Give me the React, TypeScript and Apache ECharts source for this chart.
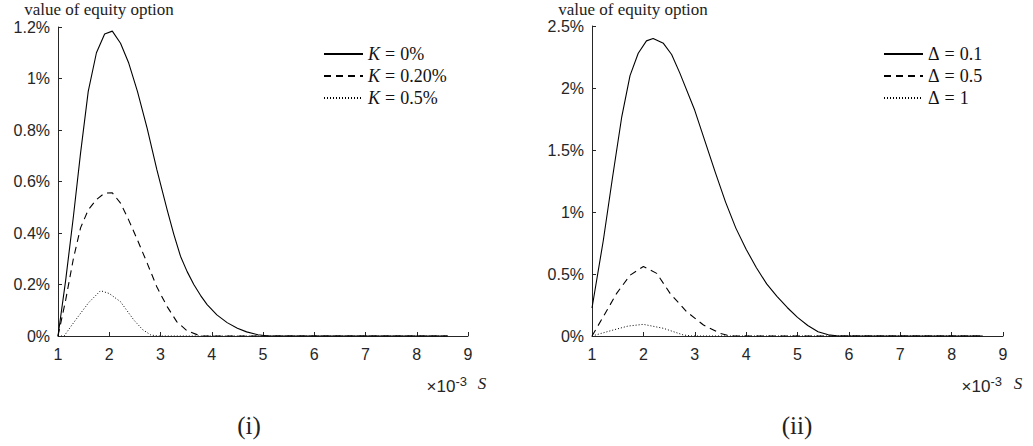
import React, { useEffect, useRef } from "react";
import * as echarts from "echarts";

// ---- data (S in units of 1e-3, values in %) ----
const xTicks = [1, 2, 3, 4, 5, 6, 7, 8, 9];

const leftNames = ["K = 0%", "K = 0.20%", "K = 0.5%"];
const leftK0: [number, number][] = [
  [1, 0], [1.15, 0.217], [1.3, 0.463], [1.44, 0.71], [1.59, 0.95], [1.75, 1.1],
  [1.91, 1.173], [2.06, 1.184], [2.22, 1.137], [2.38, 1.06], [2.55, 0.95],
  [2.74, 0.806], [2.93, 0.645], [3.13, 0.49], [3.26, 0.395], [3.39, 0.31],
  [3.52, 0.25], [3.65, 0.2], [3.78, 0.158], [3.91, 0.122], [4.1, 0.082],
  [4.3, 0.052], [4.5, 0.03], [4.68, 0.016], [4.9, 0.005], [5.1, 0], [8.6, 0],
];
const leftK020: [number, number][] = [
  [1, 0], [1.15, 0.14], [1.3, 0.3], [1.44, 0.42], [1.59, 0.49], [1.75, 0.53],
  [1.91, 0.555], [2.06, 0.556], [2.22, 0.516], [2.38, 0.45], [2.55, 0.373],
  [2.74, 0.283], [2.93, 0.19], [3.13, 0.114], [3.32, 0.055], [3.52, 0.02],
  [3.78, 0], [8.6, 0],
];
const leftK05: [number, number][] = [
  [1, 0], [1.12, 0], [1.28, 0.045], [1.44, 0.088], [1.6, 0.13], [1.83, 0.176],
  [2.0, 0.165], [2.22, 0.133], [2.48, 0.062], [2.65, 0.025], [2.81, 0.004],
  [2.95, 0], [8.6, 0],
];

const rightNames = ["Δ = 0.1", "Δ = 0.5", "Δ = 1"];
const rightD01: [number, number][] = [
  [1, 0.226], [1.22, 0.77], [1.4, 1.28], [1.58, 1.77], [1.74, 2.1], [1.9, 2.28],
  [2.06, 2.38], [2.19, 2.4], [2.39, 2.36], [2.55, 2.27], [2.71, 2.12], [3.0, 1.82],
  [3.2, 1.57], [3.4, 1.32], [3.6, 1.08], [3.8, 0.87], [4.0, 0.7], [4.2, 0.55],
  [4.4, 0.42], [4.6, 0.32], [4.8, 0.23], [5.0, 0.15], [5.2, 0.085], [5.4, 0.035],
  [5.6, 0.01], [5.8, 0], [8.6, 0],
];
const rightD05: [number, number][] = [
  [1, 0], [1.22, 0.156], [1.48, 0.344], [1.74, 0.49], [2.0, 0.56], [2.26, 0.505],
  [2.52, 0.344], [2.84, 0.196], [3.17, 0.089], [3.49, 0.022], [3.7, 0], [8.6, 0],
];
const rightD1: [number, number][] = [
  [1, 0], [1.41, 0.048], [1.7, 0.08], [2.0, 0.094], [2.39, 0.062], [2.78, 0.008],
  [2.95, 0], [8.6, 0],
];

const AXIS = "#262626";
const SANS = "'Liberation Sans', Arial, Helvetica, sans-serif";
const SERIF = "'Liberation Serif', 'DejaVu Serif', serif";

function pct(v: number) {
  const s = parseFloat(v.toFixed(2)).toString();
  return s + "%";
}

function legendFmt(name: string) {
  const m = name.match(/^(\S+) = (.*)$/);
  if (!m) return name;
  const sym = m[1] === "K" ? "{i|K}" : "{n|Δ}";
  return sym + "{e|=}{n|" + m[2] + "}";
}

export default function App() {
  const ref = useRef<HTMLDivElement>(null);
  useEffect(() => {
    if (!ref.current) return;
    const chart = echarts.init(ref.current, undefined, { renderer: "svg" });
    const xAxisBase = (gridIndex: number) => ({
      type: "value" as const,
      gridIndex,
      min: 1,
      max: 9,
      interval: 1,
      axisLine: { show: true, onZero: false, lineStyle: { color: AXIS, width: 1 } },
      axisTick: { show: true, inside: true, length: 4, lineStyle: { color: AXIS } },
      axisLabel: {
        color: AXIS, fontFamily: SANS, fontSize: 16, margin: 10,
        formatter: (v: number) => (xTicks.includes(v) ? String(v) : ""),
      },
      splitLine: { show: false },
    });
    const yAxisBase = (gridIndex: number, max: number, interval: number) => ({
      type: "value" as const,
      gridIndex,
      min: 0,
      max,
      interval,
      axisLine: { show: true, lineStyle: { color: AXIS, width: 1 } },
      axisTick: { show: true, inside: true, length: 4, lineStyle: { color: AXIS } },
      axisLabel: { color: AXIS, fontFamily: SANS, fontSize: 16, margin: 8, formatter: pct },
      splitLine: { show: false },
    });
    const lineSeries = (name: string, data: [number, number][], idx: number, type: any, width: number) => ({
      type: "line" as const,
      name,
      data,
      xAxisIndex: idx,
      yAxisIndex: idx,
      showSymbol: false,
      symbol: "none",
      lineStyle: { color: "#000", width, type },
      itemStyle: { color: "#000" },
    });
    const legendBase = (left: number, names: string[]) => ({
      orient: "vertical" as const,
      left,
      top: 45,
      padding: 0,
      itemWidth: 39,
      itemHeight: 14,
      itemGap: 4,
      data: names,
      selectedMode: false,
      formatter: legendFmt,
      itemStyle: { color: "rgba(0,0,0,0)", borderWidth: 0, opacity: 0 },
      textStyle: {
        color: "#111",
        fontFamily: SERIF,
        fontSize: 18,
        lineHeight: 17,
        rich: {
          i: { fontStyle: "italic", fontFamily: SERIF, fontSize: 18, lineHeight: 17, color: "#111" },
          n: { fontFamily: SERIF, fontSize: 18, lineHeight: 17, color: "#111" },
          e: { fontFamily: SERIF, fontSize: 18, lineHeight: 17, color: "#111", padding: [0, 5, 0, 5] },
        },
      },
    });
    const textEl = (text: string, x: number, y: number, size: number, extra: any = {}) => ({
      type: "text",
      x,
      y,
      style: {
        text,
        fill: "#222",
        font: `${size}px ${SERIF}`,
        textAlign: "center",
        textVerticalAlign: "middle",
        ...extra,
      },
    });
    const sciLabel = (x: number) => ({
      type: "text",
      x,
      y: 386,
      style: {
        text: "{a|×10}{b|-3}",
        textAlign: "right",
        textVerticalAlign: "middle",
        rich: {
          a: { font: `17px ${SANS}`, fill: AXIS },
          b: { font: `13px ${SANS}`, fill: AXIS, verticalAlign: "top", padding: [0, 0, 9, 0] },
        },
      },
    });
    chart.setOption({
      animation: false,
      backgroundColor: "#fff",
      grid: [
        { left: 58, top: 27, width: 410, height: 309 },
        { left: 592, top: 26, width: 411, height: 310 },
      ],
      xAxis: [xAxisBase(0), xAxisBase(1)],
      yAxis: [yAxisBase(0, 1.2, 0.2), yAxisBase(1, 2.5, 0.5)],
      legend: [legendBase(323, leftNames), legendBase(883, rightNames)],
      series: [
        lineSeries(leftNames[0], leftK0, 0, "solid", 1.1),
        lineSeries(leftNames[1], leftK020, 0, [7, 5], 1.1),
        lineSeries(leftNames[2], leftK05, 0, [1, 2], 1),
        lineSeries(rightNames[0], rightD01, 1, "solid", 1.1),
        lineSeries(rightNames[1], rightD05, 1, [7, 5], 1.1),
        lineSeries(rightNames[2], rightD1, 1, [1, 2], 1),
      ],
      graphic: [
        textEl("value of equity option", 99, 9, 17),
        textEl("value of equity option", 633, 9, 17),
        sciLabel(467),
        textEl("S", 482, 383, 17, { font: `italic 17px ${SERIF}` }),
        sciLabel(1002),
        textEl("S", 1018, 383, 17, { font: `italic 17px ${SERIF}` }),
        textEl("(i)", 249, 425, 25),
        textEl("(ii)", 797, 425, 25),
      ],
    });
    return () => chart.dispose();
  }, []);
  return (
    <div
      ref={ref}
      style={{ position: "fixed", left: 0, top: 0, width: 1033, height: 446, background: "#fff" }}
    />
  );
}
